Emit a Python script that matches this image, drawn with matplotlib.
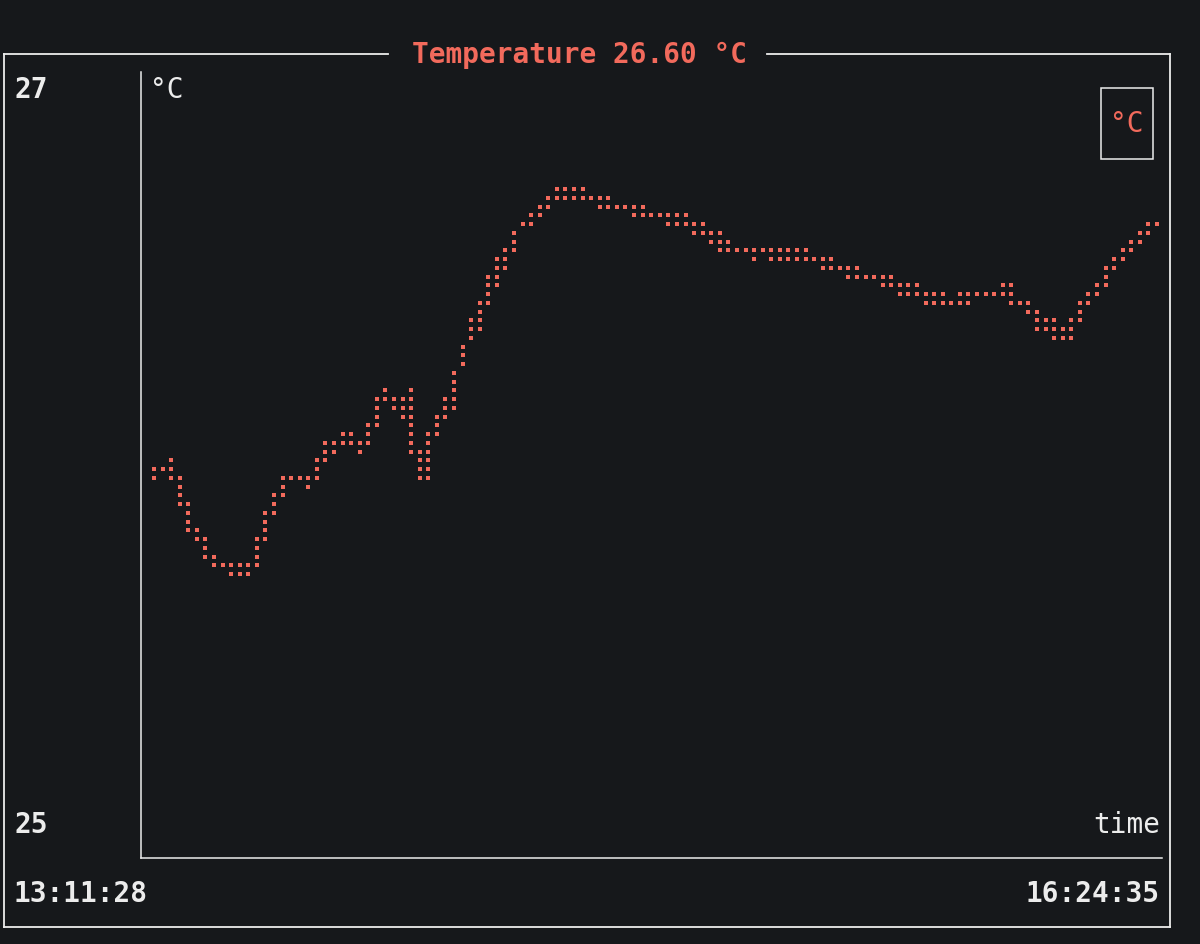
import matplotlib
matplotlib.use("Agg")
import matplotlib.pyplot as plt
from matplotlib.lines import Line2D
from matplotlib.patches import Rectangle

# time window of the chart (seconds since midnight)
t_start = 13 * 3600 + 11 * 60 + 28   # 13:11:28
t_end = 16 * 3600 + 24 * 60 + 35     # 16:24:35
start_label = "13:11:28"
end_label = "16:24:35"
y_bounds = [25, 27]
current_temp = 26.60

# max / min temperature of each time bucket (118 buckets, left to right)
temp_hi = [25.97, 25.97, 25.99, 25.94, 25.87, 25.81, 25.78, 25.74, 25.71, 25.71,
           25.71, 25.71, 25.78, 25.85, 25.90, 25.94, 25.94, 25.94, 25.94, 25.99,
           26.03, 26.03, 26.06, 26.06, 26.03, 26.08, 26.15, 26.17, 26.15, 26.15,
           26.17, 26.01, 26.06, 26.10, 26.15, 26.22, 26.29, 26.36, 26.40, 26.47,
           26.52, 26.54, 26.59, 26.61, 26.63, 26.66, 26.68, 26.70, 26.70, 26.70,
           26.70, 26.68, 26.68, 26.68, 26.66, 26.66, 26.66, 26.66, 26.63, 26.63,
           26.63, 26.63, 26.63, 26.61, 26.61, 26.59, 26.59, 26.56, 26.54, 26.54,
           26.54, 26.54, 26.54, 26.54, 26.54, 26.54, 26.54, 26.52, 26.52, 26.52,
           26.49, 26.49, 26.49, 26.47, 26.47, 26.47, 26.47, 26.45, 26.45, 26.45,
           26.43, 26.43, 26.43, 26.40, 26.43, 26.43, 26.43, 26.43, 26.43, 26.45,
           26.45, 26.40, 26.40, 26.38, 26.36, 26.36, 26.33, 26.36, 26.40, 26.43,
           26.45, 26.49, 26.52, 26.54, 26.56, 26.59, 26.61, 26.61]
temp_lo = [25.94, 25.97, 25.94, 25.87, 25.80, 25.78, 25.74, 25.71, 25.71, 25.69,
           25.69, 25.69, 25.71, 25.78, 25.85, 25.90, 25.94, 25.94, 25.92, 25.94,
           25.99, 26.01, 26.03, 26.03, 26.01, 26.03, 26.08, 26.15, 26.13, 26.10,
           26.01, 25.94, 25.94, 26.06, 26.10, 26.13, 26.24, 26.31, 26.33, 26.40,
           26.45, 26.49, 26.54, 26.61, 26.61, 26.63, 26.66, 26.68, 26.68, 26.68,
           26.68, 26.68, 26.66, 26.66, 26.66, 26.66, 26.63, 26.63, 26.63, 26.63,
           26.61, 26.61, 26.61, 26.59, 26.59, 26.56, 26.54, 26.54, 26.54, 26.54,
           26.52, 26.54, 26.52, 26.52, 26.52, 26.52, 26.52, 26.52, 26.49, 26.49,
           26.49, 26.47, 26.47, 26.47, 26.47, 26.45, 26.45, 26.43, 26.43, 26.43,
           26.40, 26.40, 26.40, 26.40, 26.40, 26.40, 26.43, 26.43, 26.43, 26.43,
           26.40, 26.40, 26.38, 26.33, 26.33, 26.31, 26.31, 26.31, 26.36, 26.40,
           26.43, 26.45, 26.49, 26.52, 26.54, 26.56, 26.59, 26.61]

bg = "#16181b"
fg = "#ececec"
accent = "#f26a5c"
W, H = 1200, 944
mono = "DejaVu Sans Mono"

fig = plt.figure(figsize=(W / 100, H / 100), dpi=100, facecolor=bg)

def fx(px):
    return px / W

def fy(py):
    return 1 - py / H

# outer block border with the title cut into the top edge
bl, bt, br, bb = 4, 53.5, 1170, 927
for xs, ys in [([bl, 388], [bt, bt]), ([767, br], [bt, bt]),
               ([bl, bl], [bt, bb]), ([br, br], [bt, bb]), ([bl, br], [bb, bb])]:
    fig.add_artist(Line2D([fx(x) for x in xs], [fy(y) for y in ys],
                          color=fg, lw=1.3))
fig.text(fx(580), fy(55), "Temperature %.2f °C" % current_temp, color=accent,
         fontsize=20, fontweight="bold", family=mono, ha="center", va="center")

# chart area: y axis line at x=141, x axis line at y=857.7
ax_l, ax_r, ax_t, ax_b = 141, 1161.5, 71.7, 857.7
ax = fig.add_axes([fx(ax_l), fy(ax_b), fx(ax_r - ax_l), (ax_b - ax_t) / H])
ax.set_facecolor(bg)

# braille-like dot grid: 118 columns x 88 rows
n_cols = len(temp_hi)
n_rows = 88
step_t = (t_end - t_start) / (n_cols - 1)
step_y = (y_bounds[1] - y_bounds[0]) / (n_rows - 1)
px_t = (t_end - t_start) / (1157 - 154)
px_y = step_y / 8.75
ax.set_xlim(t_start - (154 - ax_l) * px_t, t_end + (ax_r - 1157) * px_t)
ax.set_ylim(y_bounds[1] - (ax_b - 75.4) * px_y, y_bounds[1] + (75.4 - ax_t) * px_y)

xs, ys = [], []
for i in range(n_cols):
    r_top = round((y_bounds[1] - temp_hi[i]) / step_y)
    r_bot = round((y_bounds[1] - temp_lo[i]) / step_y)
    for r in range(r_top, r_bot + 1):
        xs.append(t_start + i * step_t)
        ys.append(y_bounds[1] - r * step_y)
ax.plot(xs, ys, linestyle="none", marker="s", ms=3.0, mew=0, color=accent)

for side in ["top", "right"]:
    ax.spines[side].set_visible(False)
for side in ["left", "bottom"]:
    ax.spines[side].set_color(fg)
    ax.spines[side].set_linewidth(1.1)
ax.set_xticks([])
ax.set_yticks([])

# axis labels and bounds, terminal style
fig.text(fx(14), fy(90), str(y_bounds[1]), color=fg, fontsize=20,
         fontweight="bold", family=mono, ha="left", va="center")
fig.text(fx(14), fy(825), str(y_bounds[0]), color=fg, fontsize=20,
         fontweight="bold", family=mono, ha="left", va="center")
fig.text(fx(14), fy(894), start_label, color=fg, fontsize=20,
         fontweight="bold", family=mono, ha="left", va="center")
fig.text(fx(1160), fy(894), end_label, color=fg, fontsize=20,
         fontweight="bold", family=mono, ha="right", va="center")
fig.text(fx(150), fy(90), "°C", color=fg, fontsize=20, family=mono,
         ha="left", va="center")
fig.text(fx(1160), fy(825), "time", color=fg, fontsize=20, family=mono,
         ha="right", va="center")

# legend box
fig.add_artist(Rectangle((fx(1101), fy(158.5)), fx(52), 70 / H, fill=False,
                         edgecolor=fg, lw=1.1))
fig.text(fx(1127), fy(124), "°C", color=accent, fontsize=20, family=mono,
         ha="center", va="center")

fig.savefig("out.png", dpi=100, facecolor=bg)
